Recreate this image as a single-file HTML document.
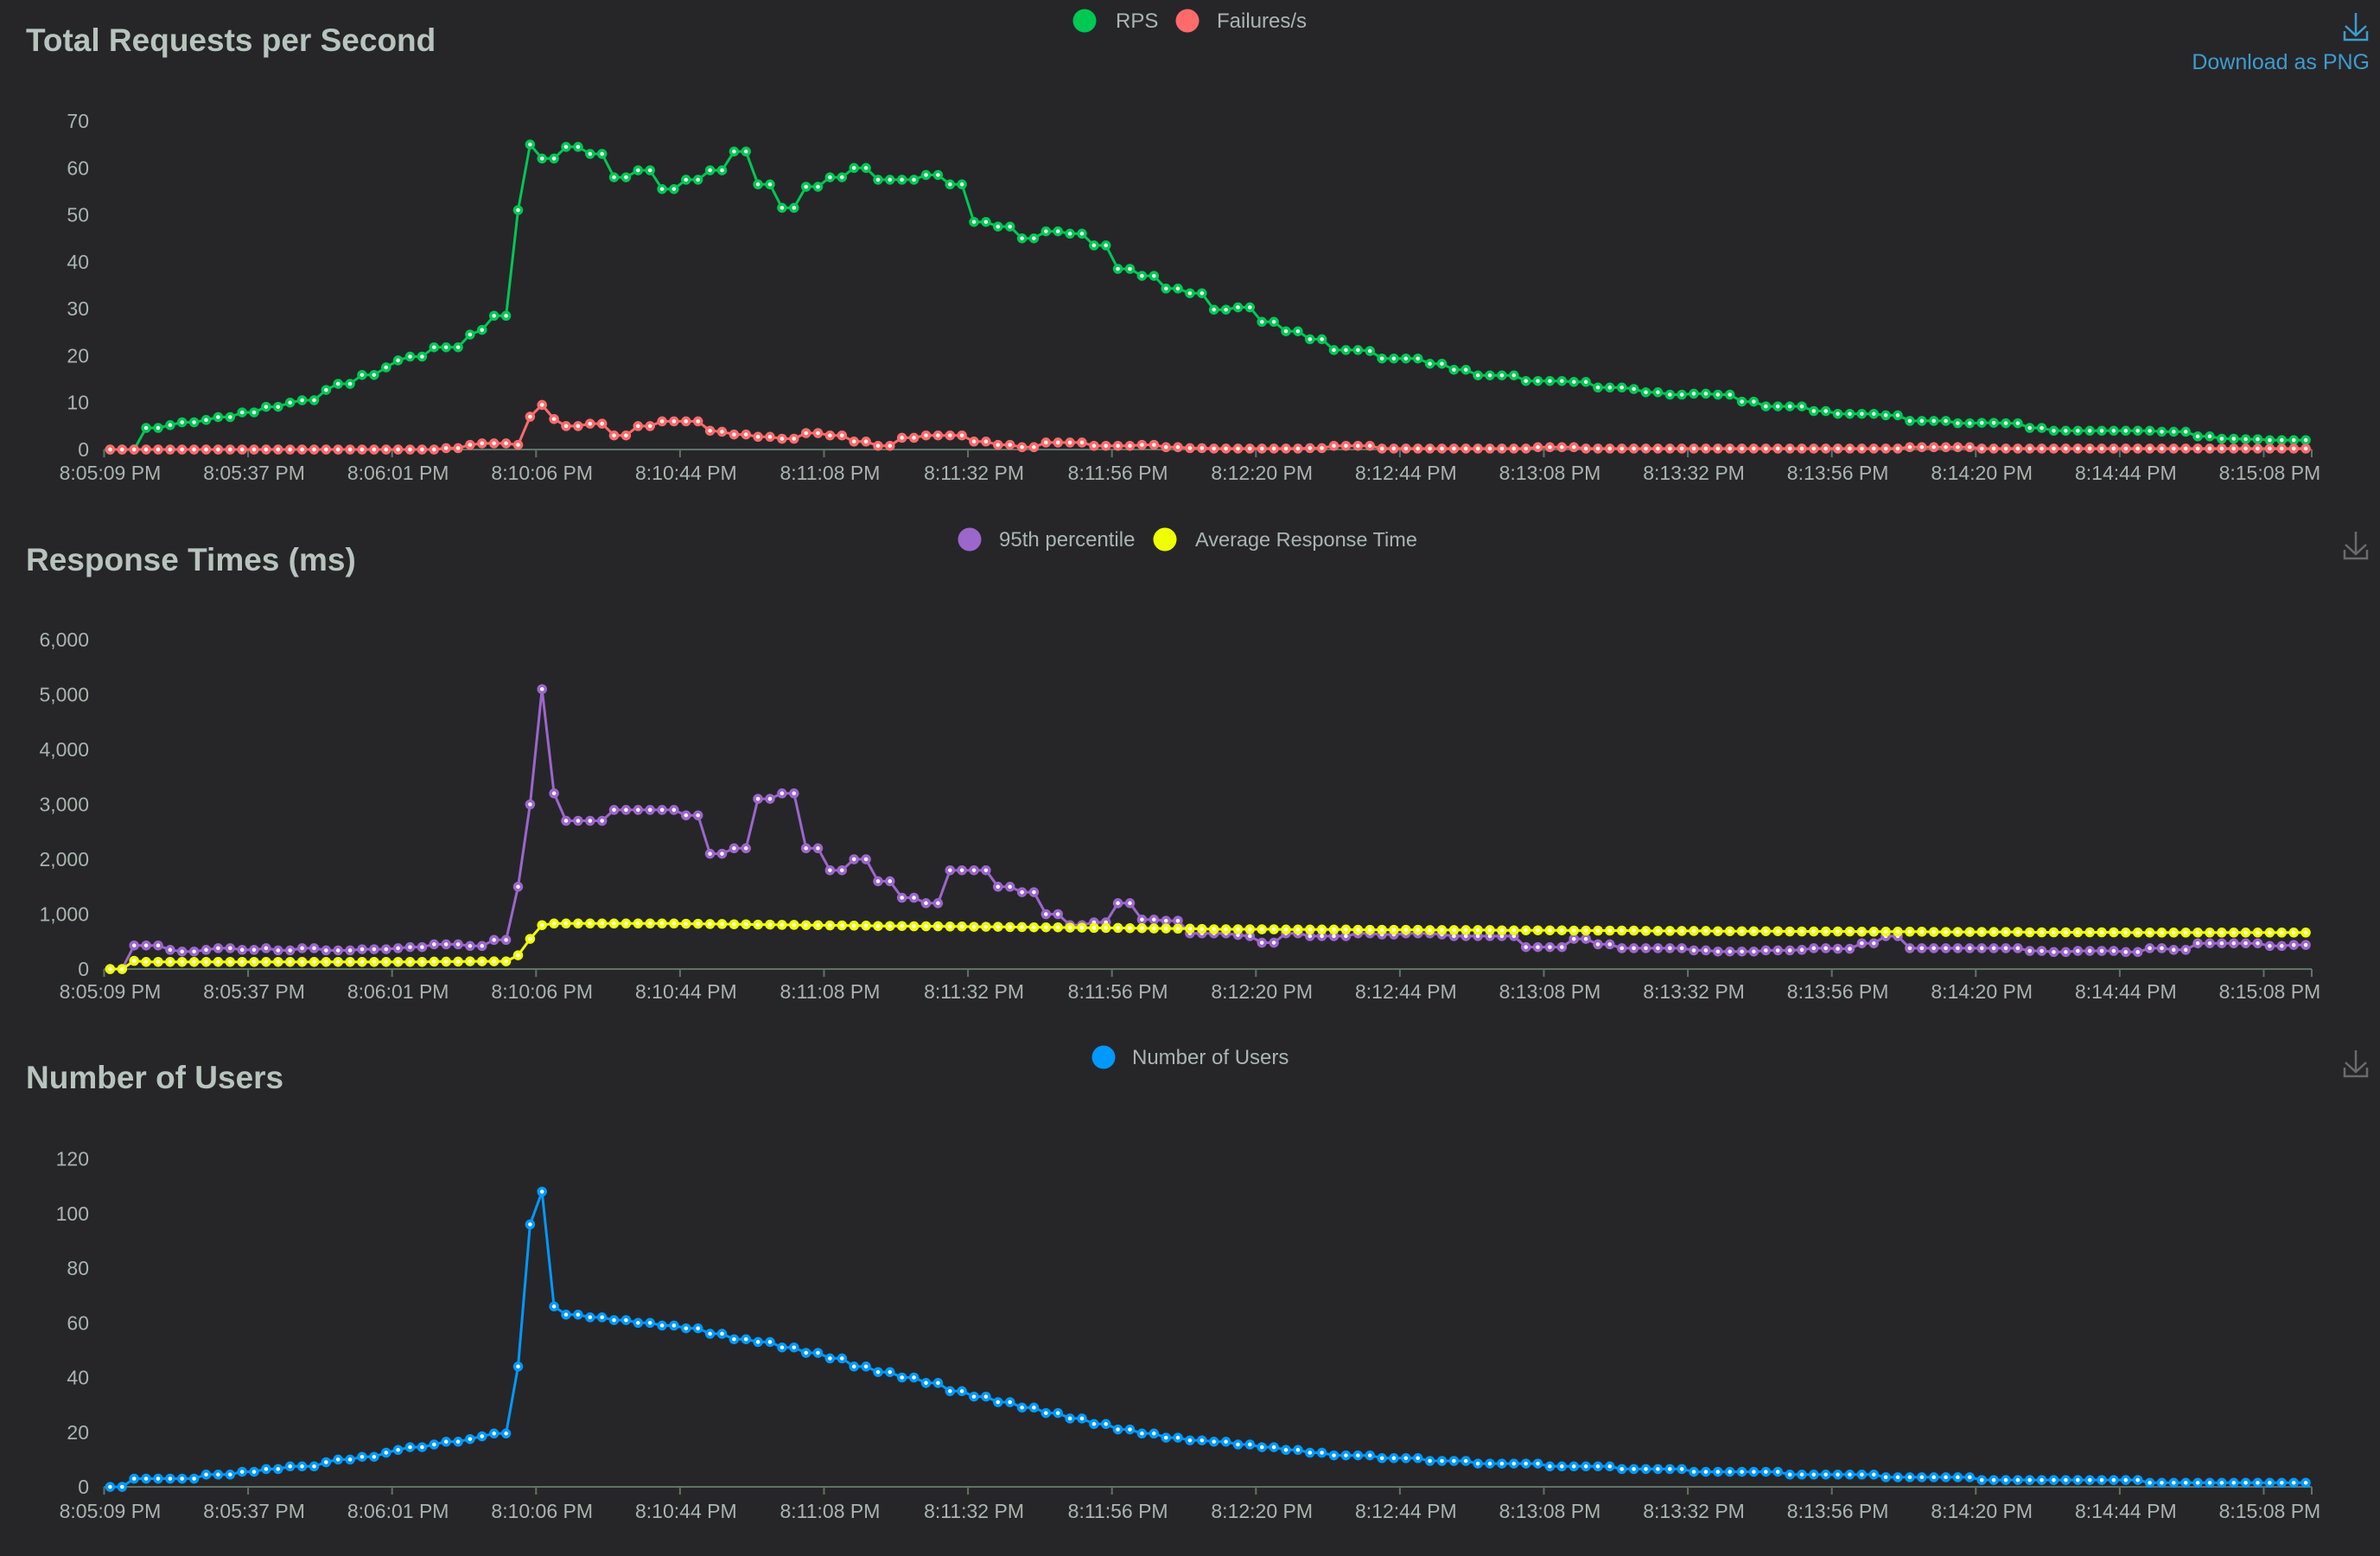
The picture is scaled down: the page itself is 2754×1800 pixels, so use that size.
<!DOCTYPE html>
<html><head><meta charset="utf-8"><style>
html,body{margin:0;padding:0;background:#262629;}
svg{display:block;font-family:"Liberation Sans",Arial,sans-serif;}
</style></head><body>
<svg id="root" width="2754" height="1800" viewBox="0 0 2754 1800" xmlns="http://www.w3.org/2000/svg">
<rect x="0" y="0" width="2754" height="1800" fill="#262629"/>
<text x="30" y="59" font-size="37" font-weight="bold" fill="#b7c4bd">Total Requests per Second</text>
<text x="30" y="660" font-size="37" font-weight="bold" fill="#b7c4bd">Response Times (ms)</text>
<text x="30" y="1259" font-size="37" font-weight="bold" fill="#b7c4bd">Number of Users</text>

<g><circle cx="1255" cy="24" r="13.5" fill="#00c853"/><text x="1291" y="32" font-size="24" fill="#aab6b0">RPS</text></g>
<g><circle cx="1374" cy="24" r="13.5" fill="#ff6b6b"/><text x="1408" y="32" font-size="24" fill="#aab6b0">Failures/s</text></g>
<g><circle cx="1122" cy="624" r="13.5" fill="#9c66cc"/><text x="1156" y="632" font-size="24" fill="#aab6b0">95th percentile</text></g>
<g><circle cx="1348" cy="624" r="13.5" fill="#f0ff00"/><text x="1383" y="632" font-size="23.5" fill="#aab6b0">Average Response Time</text></g>
<g><circle cx="1277" cy="1223" r="13.5" fill="#0099ff"/><text x="1310" y="1231" font-size="24" fill="#aab6b0">Number of Users</text></g>

<g stroke="#3e9ccd" stroke-width="2.5" fill="none"><path d="M2726 15 V41 M2714 30 L2726 41 L2738 30 M2713 36 V46 H2739 V36"/></g>
<text x="2742" y="80" text-anchor="end" font-size="25" fill="#3e9ccd">Download as PNG</text>
<g stroke="#6a6a6e" stroke-width="2.5" fill="none"><path d="M2726 615 V641 M2714 630 L2726 641 L2738 630 M2713 636 V646 H2739 V636"/></g>
<g stroke="#6a6a6e" stroke-width="2.5" fill="none"><path d="M2726 1215 V1240 M2714 1229 L2726 1240 L2738 1229 M2713 1235 V1245 H2739 V1235"/></g>
<g id="charts"></g>
</svg>
<script>
const tickLabels = ['8:05:09 PM','8:05:37 PM','8:06:01 PM','8:10:06 PM','8:10:44 PM','8:11:08 PM','8:11:32 PM','8:11:56 PM','8:12:20 PM','8:12:44 PM','8:13:08 PM','8:13:32 PM','8:13:56 PM','8:14:20 PM','8:14:44 PM','8:15:08 PM'];
const labelEvery = 12;
const rps = [0,0,0,4.6,4.6,5.2,5.8,5.8,6.3,6.9,
6.9,7.9,7.9,9.1,9.1,10,10.5,10.5,12.7,14,
14,15.9,15.9,17.5,19,19.8,19.8,21.8,21.8,21.8,
24.5,25.5,28.5,28.5,51,65,62,62,64.5,64.5,
63,63,58,58,59.5,59.5,55.5,55.5,57.5,57.5,
59.5,59.5,63.5,63.5,56.5,56.5,51.5,51.5,56,56,
58,58,60,60,57.5,57.5,57.5,57.5,58.5,58.5,
56.5,56.5,48.5,48.5,47.5,47.5,45,45,46.5,46.5,
46,46,43.5,43.5,38.5,38.5,37,37,
34.3,34.3,33.3,33.3,29.8,29.8,30.3,30.3,27.2,27.2,
25.2,25.2,23.5,23.5,21.2,21.2,21.2,21,19.4,19.4,
19.4,19.4,18.3,18.3,17,17,15.8,15.8,15.8,15.8,
14.6,14.6,14.6,14.6,14.4,14.4,13.2,13.2,13.2,12.9,
12.2,12.2,11.7,11.7,11.9,11.9,11.7,11.7,10.2,10.2,
9.2,9.2,9.2,9.2,8.2,8.2,7.6,7.6,7.6,7.6,
7.3,7.3,6.1,6.1,6.1,6.1,5.6,5.6,5.7,5.7,
5.6,5.6,4.6,4.6,4,4,4,4,4,4,
4,4,4,3.8,3.8,3.8,2.8,2.8,2.3,2.3,
2.2,2.2,2,2,2,2];
const failures = [0,0,0,0,0,0,0,0,0,0, 0,0,0,0,0,0,0,0,0,0, 0,0,0,0,0,0,0,0,0.3,0.3,
1,1.3,1.3,1.3,1,7,9.5,6.5,5,5,
5.5,5.5,3,3,5,5,6,6,6,6,
4,3.8,3.2,3.2,2.7,2.7,2.3,2.3,3.5,3.5,
3,3,1.7,1.7,0.8,0.8,2.5,2.5,3,3,
3,3,1.7,1.7,1,1,0.5,0.5,1.5,1.5,
1.5,1.5,0.8,0.8,0.8,0.8,1,1,
0.5,0.5,0.3,0.3,0.2,0.2,0.2,0.2,0.2,0.2,
0.2,0.2,0.3,0.3,0.8,0.8,0.8,0.8,0.2,0.2,
0.2,0.2,0.2,0.2,0.2,0.2,0.2,0.2,0.2,0.2,0.2,
0.5,0.5,0.5,0.5,
0.2,0.2,0.2,0.2,0.2,0.2,0.2,0.2,0.2,0.2,0.2,0.2,0.2,0.2,0.2,0.2,0.2,0.2,0.2,0.2,0.2,0.2,0.2,0.2,0.2,0.2,0.2,
0.5,0.5,0.5,0.5,0.5,0.5,
0.2,0.2,0.2,0.2,0.2,0.2,0.2,0.2,0.2,0.2,0.2,0.2,0.2,0.2,0.2,0.2,0.2,0.2,0.2,0.2,0.2,0.2,0.2,0.2,0.2,0.2,0.2,0.2];
const p95 = [0,0,430,430,430,350,320,320,350,380,
380,350,350,380,340,340,380,380,340,340,
340,360,360,360,380,400,400,450,450,450,
420,420,530,530,1500,3000,5100,3200,2700,2700,
2700,2700,2900,2900,2900,2900,2900,2900,2800,2800,
2100,2100,2200,2200,3100,3100,3200,3200,2200,2200,
1800,1800,2000,2000,1600,1600,1300,1300,1200,1200,
1800,1800,1800,1800,1500,1500,1400,1400,1000,1000,
800,800,850,850,1200,1200,900,900,880,880,
650,650,650,650,620,600,480,480,650,650,
600,600,600,600,650,650,630,630,650,650,
650,630,600,600,600,600,600,600,400,400,
400,400,550,550,450,450,380,380,380,380,
380,380,340,340,320,320,320,320,340,340,
340,350,380,380,370,370,470,470,600,600,
380,380,380,380,380,380,380,380,380,380,
330,330,310,310,330,330,330,330,310,310,
380,380,350,350,470,470,470,470,470,470,
420,420,440,440];
const avgRt = [0,0,150,130,130,130,130,130,130,130,
130,130,130,130,130,130,130,130,130,130,
130,130,130,130,130,130,130,135,135,135,
140,140,140,140,250,550,800,830,830,830,
830,830,830,830,830,830,830,830,825,825,
820,820,815,815,810,810,805,805,800,800,
795,795,790,790,785,785,785,780,780,780,
775,775,770,770,770,765,765,760,760,760,
755,755,750,750,750,745,745,740,740,735,
735,730,725,725,725,725,725,725,720,720,
720,720,720,720,715,715,715,715,715,715,
710,710,710,710,710,710,705,705,705,705,
705,705,700,700,700,700,700,700,695,695,
695,695,695,695,690,690,690,690,690,690,
685,685,685,685,685,685,680,680,680,680,
680,680,675,675,675,675,675,675,675,675,
670,670,670,670,670,670,670,670,665,665,
665,665,665,665,665,665,665,665,665,665,
665,665,665,665];
const users = [0,0,3,3,3,3,3,3,4.5,4.5,
4.5,5.5,5.5,6.5,6.5,7.5,7.5,7.5,9,10,
10,11,11,12.5,13.5,14.5,14.5,15.5,16.5,16.5,
17.5,18.5,19.5,19.5,44,96,108,66,63,63,
62,62,61,61,60,60,59,59,58,58,
56,56,54,54,53,53,51,51,49,49,
47,47,44,44,42,42,40,40,38,38,
35,35,33,33,31,31,29,29,27,27,
25,25,23,23,21,21,19.5,19.5,18,18,
17,17,16.5,16.5,15.5,15.5,14.5,14.5,13.5,13.5,
12.5,12.5,11.5,11.5,11.5,11.5,10.5,10.5,10.5,10.5,
9.5,9.5,9.5,9.5,8.5,8.5,8.5,8.5,8.5,8.5,
7.5,7.5,7.5,7.5,7.5,7.5,6.5,6.5,6.5,6.5,
6.5,6.5,5.5,5.5,5.5,5.5,5.5,5.5,5.5,5.5,
4.5,4.5,4.5,4.5,4.5,4.5,4.5,4.5,3.5,3.5,
3.5,3.5,3.5,3.5,3.5,3.5,2.5,2.5,2.5,2.5,
2.5,2.5,2.5,2.5,2.5,2.5,2.5,2.5,2.5,2.5,
1.5,1.5,1.5,1.5,1.5,1.5,1.5,1.5,1.5,1.5,
1.5,1.5,1.5,1.5];
const rpsTicks = [0,10,20,30,40,50,60,70];
const rtTicks = [0,1000,2000,3000,4000,5000,6000];
const userTicks = [0,20,40,60,80,100,120];

const NS = 'http://www.w3.org/2000/svg';
const X0 = 120.5, X1 = 2675;
function mk(tag, attrs, parent){
  const e = document.createElementNS(NS, tag);
  for (const k in attrs) e.setAttribute(k, attrs[k]);
  parent.appendChild(e);
  return e;
}
function fmt(v){ return v.toString().replace(/\B(?=(\d{3})+(?!\d))/g, ','); }

function drawChart(name, yZero, yTop, ticks, seriesList, labelY){
  const root = document.getElementById('charts');
  const g = mk('g', {}, root);
  
  
  const n = seriesList[0].data.length;
  const band = (X1 - X0) / n;
  const maxV = ticks[ticks.length - 1];
  const xs = i => X0 + band * (i + 0.5);
  const ys = v => yZero - (v / maxV) * (yZero - yTop);
  const yl = mk('g', {}, g);
  
  
  ticks.forEach(t => {
    const tx = mk('text', {x: 103, y: ys(t) + 8, 'text-anchor': 'end', 'font-size': 23, fill: '#a9b5ae'}, yl);
    
    
    tx.textContent = fmt(t);
  });
  const xa = mk('g', {}, g);
  
  
  mk('line', {x1: X0, y1: yZero, x2: X1, y2: yZero, stroke: '#5f7367', 'stroke-width': 2}, xa);
  tickLabels.forEach((lab, k) => {
    const idx = k * labelEvery;
    const bx = X0 + band * idx;
    mk('line', {x1: bx, y1: yZero, x2: bx, y2: yZero + 9, stroke: '#5f7367', 'stroke-width': 2}, xa);
    const tx = mk('text', {x: xs(idx), y: labelY, 'text-anchor': 'middle', 'font-size': 23, fill: '#a9b5ae'}, xa);
    
    
    tx.textContent = lab;
  });
  mk('line', {x1: X1, y1: yZero, x2: X1, y2: yZero + 9, stroke: '#5f7367', 'stroke-width': 2}, xa);
  seriesList.forEach(s => {
    const sg = mk('g', {}, g);
    
    
    const pts = s.data.map((v, i) => xs(i).toFixed(1) + ',' + ys(v).toFixed(1)).join(' ');
    const pl = mk('polyline', {points: pts, fill: 'none', stroke: s.color, 'stroke-width': 3, 'stroke-linejoin': 'round'}, sg);
    
    
    s.data.forEach((v, i) => {
      const c = mk('circle', {cx: xs(i).toFixed(1), cy: ys(v).toFixed(1), r: 4, fill: '#ffffff', stroke: s.color, 'stroke-width': 3.5}, sg);
      
      
    });
  });
}

drawChart('rps', 520, 140, rpsTicks, [
  {name: 'rps', color: '#00c853', data: rps},
  {name: 'failures', color: '#ff6b6b', data: failures}
], 555);
drawChart('response-times', 1121, 740, rtTicks, [
  {name: 'p95', color: '#9c66cc', data: p95},
  {name: 'avg-response', color: '#f0ff00', data: avgRt}
], 1155);
drawChart('users', 1720, 1340.5, userTicks, [
  {name: 'users', color: '#0099ff', data: users}
], 1756);
</script>
</body></html>
